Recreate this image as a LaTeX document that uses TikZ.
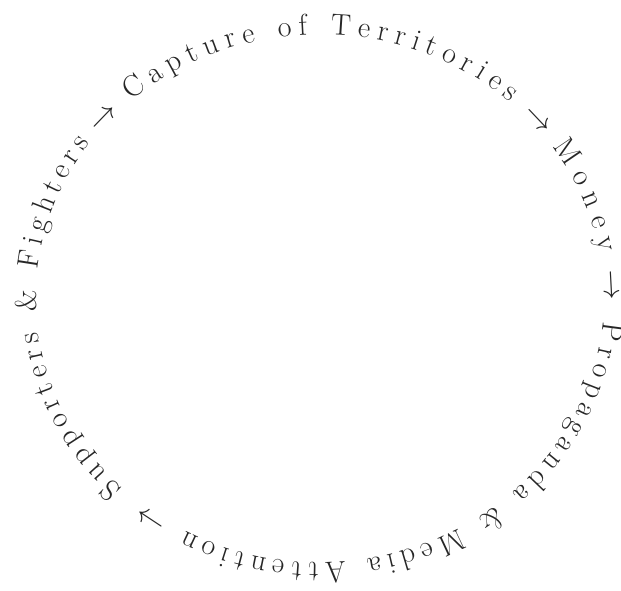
\RequirePackage{fix-cm}
\documentclass[tikz,border=0pt]{standalone}
\usetikzlibrary{decorations.text}
\newcommand{\rarr}{$\rightarrow$}
\newcommand{\amp}{\&}
\newcommand{\ringfont}{\fontsize{30}{30}\selectfont}
\tikzset{
  ringtext/.style 2 args={decorate, decoration={text along path, text align={#1},
    text color=black!85, text={|\ringfont|#2}}}
}
% arc segment of the ring: start angle, end angle, alignment, text
\newcommand{\ringseg}[4]{%
  \path[ringtext={#3}{#4}] (c) ++(#1:284 and 264)
    arc[start angle=#1, end angle=#2, x radius=284, y radius=264];}
\newcommand{\ringarrow}[1]{%
  \pgfmathsetmacro{\ra}{#1+8}\pgfmathsetmacro{\rb}{#1-8}%
  \ringseg{\ra}{\rb}{center}{{\rarr}}}
\begin{document}
\begin{tikzpicture}[x=1pt,y=1pt]
\useasboundingbox (0,0) rectangle (621,590);
\coordinate (c) at (320,291.5);
\ringseg{131.6}{48}{fit to path}{Capture of Territories}
\ringarrow{41.3}
\ringseg{35}{10}{fit to path}{Money}
\ringarrow{2.8}
\ringseg{-5}{-118.3}{fit to path}{Propaganda {\amp} Media Attention}
\ringarrow{-125.5}
\ringseg{-134}{-216}{fit to path}{Supporters {\amp} Fighters}
\ringarrow{-221.8}
\end{tikzpicture}
\end{document}
